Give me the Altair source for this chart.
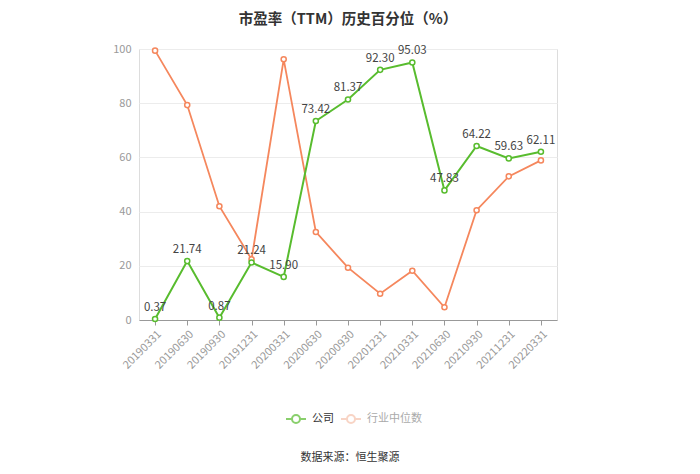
import altair as alt
import pandas as pd

dates = ["20190331", "20190630", "20190930", "20191231", "20200331", "20200630",
         "20200930", "20201231", "20210331", "20210630", "20210930", "20211231", "20220331"]
company = [0.37, 21.74, 0.87, 21.24, 15.90, 73.42, 81.37, 92.30, 95.03, 47.83, 64.22, 59.63, 62.11]
industry = [99.4, 79.3, 42.0, 22.4, 96.2, 32.5, 19.3, 9.7, 18.2, 4.7, 40.5, 53.0, 58.9]
series_names = ["公司", "行业中位数"]

GREEN = "#58bc2e"
ORANGE = "#f5875d"
PALE = "#f6c3ad"
FONT = "Noto Sans CJK SC"

df_c = pd.DataFrame({"date": dates, "v": company, "series": series_names[0]})
df_i = pd.DataFrame({"date": dates, "v": industry, "series": series_names[1]})

x_enc = alt.X("date:N", sort=dates, title=None,
              scale=alt.Scale(type="point", padding=0.5),
              axis=alt.Axis(labelAngle=-45, labelColor="#999", labelFontSize=11, labelFont=FONT,
                            domainColor="#999", tickColor="#999", tickSize=5, labelPadding=3,
                            grid=False))
y_enc = alt.Y("v:Q", title=None,
              scale=alt.Scale(domain=[0, 100], nice=False),
              axis=alt.Axis(values=[0, 20, 40, 60, 80, 100], labelColor="#999", labelFontSize=11,
                            labelFont=FONT, ticks=False, domain=False, gridColor="#ececec",
                            labelPadding=8))

base_c = alt.Chart(df_c).encode(x=x_enc, y=y_enc)
base_i = alt.Chart(df_i).encode(x=x_enc, y=y_enc)

line_i = base_i.mark_line(color=ORANGE, strokeWidth=1.8)
pts_i = base_i.mark_point(shape="circle", filled=True, fill="white", stroke=ORANGE,
                          strokeWidth=1.5, size=26, opacity=1)
line_c = base_c.mark_line(color=GREEN, strokeWidth=2)
pts_c = base_c.mark_point(shape="circle", filled=True, fill="white", stroke=GREEN,
                          strokeWidth=1.5, size=26, opacity=1)
lbl_c = base_c.mark_text(dy=-11, fontSize=11.5, color="#444", font=FONT).encode(
    text=alt.Text("v:Q", format=".2f"))

SYM = "M-1,0L-0.4,0M0.4,0L1,0M-0.4,0A0.4,0.4,0,1,1,0.4,0A0.4,0.4,0,1,1,-0.4,0"


def legend_layer(df, name, col, lblcol, lx):
    return alt.Chart(df).transform_filter("datum.v < -1000").mark_point(filled=False).encode(
        x=x_enc, y=y_enc,
        color=alt.Color("series:N", scale=alt.Scale(domain=[name], range=[col]),
                        legend=alt.Legend(title=None, orient="none", legendX=lx, legendY=359,
                                          symbolType=SYM, symbolSize=400, symbolStrokeWidth=2,
                                          symbolFillColor="white", labelFontSize=11,
                                          labelFont=FONT, labelColor=lblcol, labelOffset=5,
                                          padding=0)))


leg_a = legend_layer(df_c, series_names[0], GREEN, "#333", 146)
leg_b = legend_layer(df_i, series_names[1], PALE, "#aaa", 201)

source = alt.Chart(pd.DataFrame({"t": ["数据来源：恒生聚源"]})).mark_text(
    fontSize=11, color="#333", font=FONT, fontWeight="normal").encode(
    text="t:N", x=alt.value(211), y=alt.value(409))

chart = alt.layer(line_i, pts_i, line_c, pts_c, lbl_c, leg_a, leg_b, source).resolve_scale(
    color="independent"
).properties(
    width=418, height=271,
    title=alt.Title("市盈率（TTM）历史百分位（%）", fontSize=14.5, fontWeight="bold",
                    color="#333", font=FONT, anchor="middle", offset=16),
    autosize=alt.AutoSizeParams(type="none"),
    padding={"left": 131, "top": 41, "right": 135, "bottom": 146},
).configure_view(stroke=None).configure(background="white")

chart.save("out.html", embed_options={"renderer": "svg", "actions": False})
